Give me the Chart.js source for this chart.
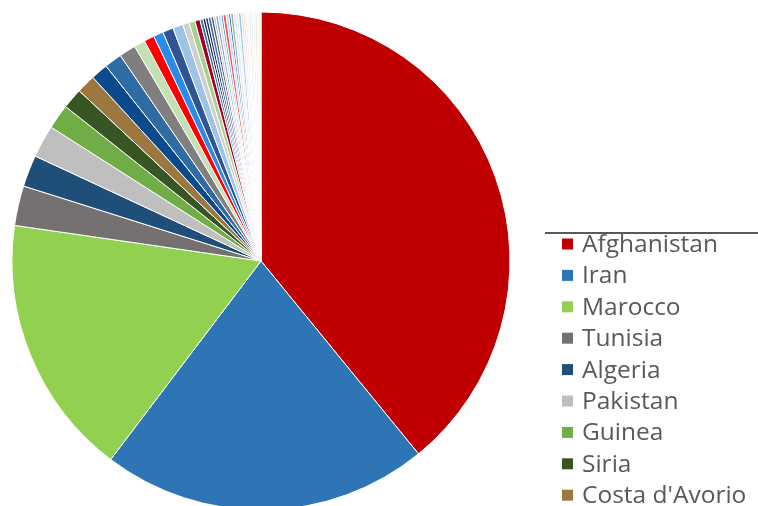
<!DOCTYPE html>
<html>
<head>
<meta charset="utf-8">
<script src="https://cdn.jsdelivr.net/npm/chart.js@4.4.1/dist/chart.umd.min.js"></script>
<style>
    html, body { margin: 0; padding: 0; background: #fff; overflow: hidden; }
    #wrap { width: 758px; height: 506px; overflow: hidden; position: relative; }
</style>
</head>
<body>
<div id="wrap">
    <canvas id="pieChart" width="758" height="522"></canvas>
</div>
<script>
// Countries (only the first ones fit in the visible legend)
const countries = [
    "Afghanistan", "Iran", "Marocco", "Tunisia", "Algeria", "Pakistan", "Guinea", "Siria", "Costa d'Avorio",
    "Nigeria", "Bangladesh", "Egitto", "Iraq", "Turchia", "Senegal", "Mali", "Camerun", "Gambia", "Eritrea", "Somalia",
    "Sudan", "Libia", "Ghana", "India", "Sri Lanka", "Albania", "Kosovo", "Georgia", "Ucraina", "Russia",
    "Cina", "Etiopia", "Palestina", "Libano", "Yemen", "Burkina Faso",
    "Niger", "Ciad", "Togo", "Benin", "Sierra Leone", "Liberia", "Congo", "Venezuela", "Colombia", "Perù"
];

// Values
const counts = [
    1408, 764, 611, 93, 74, 76, 58, 48, 44,
    40, 41, 39, 26, 24, 23, 25, 24, 15, 14, 12,
    7, 6, 6, 7, 6, 5, 6, 6, 5, 7,
    6, 5, 6, 7, 5, 6,
    5, 4, 5, 4, 5, 4, 5, 5, 4, 5
];

const sliceColors = [
    "#C00000", "#2E75B6", "#92D050", "#767171", "#1F4E79", "#BFBFBF", "#70AD47", "#375623", "#9C7840",
    "#0B4A8C", "#2F6CA3", "#7F7F7F", "#C5E0B4", "#FF0000", "#2A8BEA", "#2F5597", "#9DC3E6", "#D0CECE", "#A9D18E", "#A50021",
    "#2E75B6", "#222A35", "#203864", "#4472C4", "#595959", "#ADB9CA", "#8FAADC", "#D6DCE5", "#5B9BD5", "#FF5050",
    "#BDD7EE", "#2E75B6", "#A6A6A6", "#DEEBF7", "#E2F0D9", "#9DC3E6",
    "#DAE3F3", "#F8CBAD", "#EDEDED", "#FFF2CC", "#E7E6E6", "#DEEBF7", "#F2F2F2", "#E2F0D9", "#FBE5D6", "#F2F2F2"
];

// Draws the legend column on the right
const sideLegend = {
    id: 'sideLegend',
    afterDraw(chart) {
        const ctx = chart.ctx;
        ctx.save();
        ctx.strokeStyle = '#595959';
        ctx.lineWidth = 2;
        ctx.beginPath();
        ctx.moveTo(545, 233);
        ctx.lineTo(758, 233);
        ctx.stroke();

        ctx.font = '24.5px "Open Sans"';
        ctx.textBaseline = 'middle';
        chart.data.labels.forEach((label, i) => {
            const y = 244 + i * 31.4;
            ctx.fillStyle = chart.data.datasets[0].backgroundColor[i];
            ctx.fillRect(562, y - 5.5, 11, 11);
            ctx.fillStyle = '#595959';
            ctx.fillText(label, 582, y + 1);
        });
        ctx.restore();
    }
};

new Chart(document.getElementById('pieChart').getContext('2d'), {
    type: 'pie',
    data: {
        labels: countries,
        datasets: [{
            data: counts,
            backgroundColor: sliceColors,
            borderColor: '#fff',
            borderWidth: 1,
            hoverOffset: 0
        }]
    },
    options: {
        responsive: false,
        animation: false,
        devicePixelRatio: 1,
        radius: 249,
        layout: { padding: { right: 236 } },
        plugins: {
            legend: { display: false },
            tooltip: { enabled: false }
        }
    },
    plugins: [sideLegend]
});
</script>
</body>
</html>
